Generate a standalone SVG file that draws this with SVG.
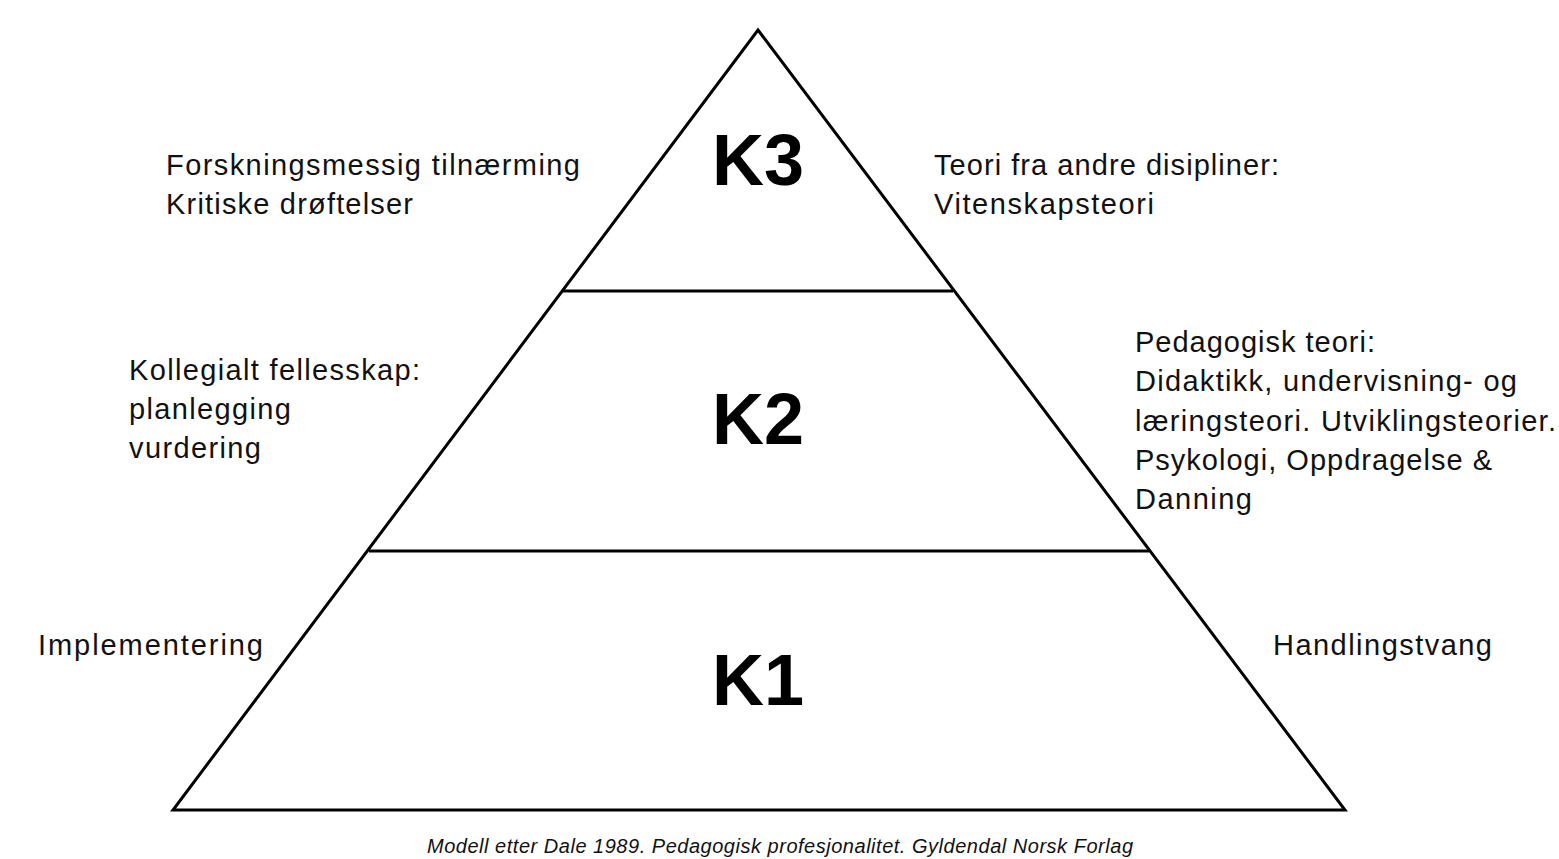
<svg xmlns="http://www.w3.org/2000/svg" width="1559" height="859" viewBox="0 0 1559 859">
<style>
.t{font-family:"Liberation Sans",Arial,sans-serif;font-size:29px;fill:#111}
.k{font-family:"Liberation Sans",Arial,sans-serif;font-size:72px;font-weight:bold;fill:#000;text-anchor:middle}
.c{font-family:"Liberation Sans",Arial,sans-serif;font-size:20px;font-style:italic;fill:#111;text-anchor:middle}
.ln{stroke:#000;stroke-width:3;fill:none;stroke-linejoin:miter}
</style>
<rect width="1559" height="859" fill="#fff"/>
<g id="pyramid">
<polygon class="ln" points="758,30 1345,810 173,810"/>
<line class="ln" x1="563" y1="291" x2="953" y2="291"/>
<line class="ln" x1="369" y1="551" x2="1149" y2="551"/>
</g>
<g id="k3"><text class="k" x="758" y="185">K3</text></g>
<g id="k2"><text class="k" x="758" y="444">K2</text></g>
<g id="k1"><text class="k" x="758" y="705">K1</text></g>
<g id="left3"><text class="t" x="166" y="175" textLength="414">Forskningsmessig tilnærming</text><text class="t" x="166" y="214" textLength="247">Kritiske drøftelser</text></g>
<g id="right3"><text class="t" x="934" y="175" textLength="345">Teori fra andre disipliner:</text><text class="t" x="934" y="214" textLength="220">Vitenskapsteori</text></g>
<g id="left2"><text class="t" x="129" y="380" textLength="291">Kollegialt fellesskap:</text><text class="t" x="129" y="419" textLength="162">planlegging</text><text class="t" x="129" y="458" textLength="132">vurdering</text></g>
<g id="right2"><text class="t" x="1135" y="352" textLength="240">Pedagogisk teori:</text><text class="t" x="1135" y="391" textLength="382">Didaktikk, undervisning- og</text><text class="t" x="1135" y="431" textLength="421">læringsteori. Utviklingsteorier.</text><text class="t" x="1135" y="470" textLength="357">Psykologi, Oppdragelse &amp;</text><text class="t" x="1135" y="509" textLength="117">Danning</text></g>
<g id="left1"><text class="t" x="38" y="655" textLength="225">Implementering</text></g>
<g id="right1"><text class="t" x="1273" y="655" textLength="219">Handlingstvang</text></g>
<g id="caption"><text class="c" x="780" y="853" textLength="706">Modell etter Dale 1989. Pedagogisk profesjonalitet. Gyldendal Norsk Forlag</text></g>
</svg>
